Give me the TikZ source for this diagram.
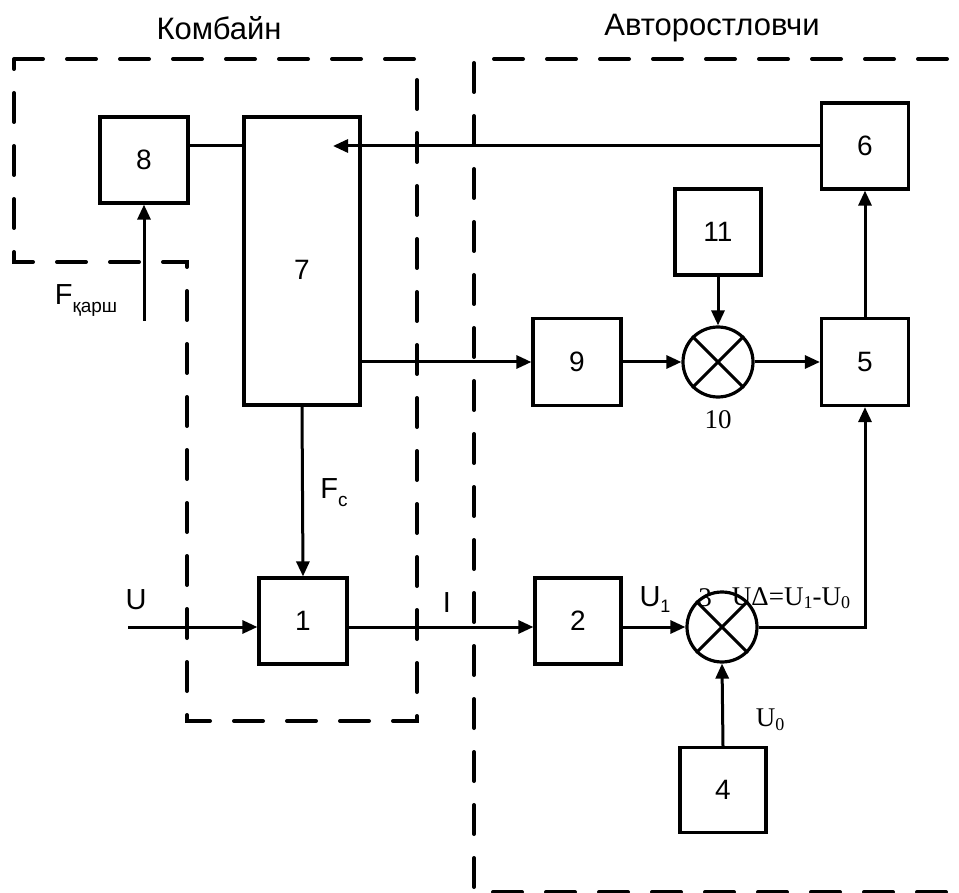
\documentclass[tikz,border=0pt]{standalone}
\usepackage{fontspec}
\setmainfont{Liberation Sans}
\newfontfamily\tms{Liberation Serif}
\usetikzlibrary{arrows.meta}
\begin{document}
\begin{tikzpicture}[x=1pt,y=-1pt,
  blk/.style={draw,line width=3.2pt,rectangle,inner sep=0pt,font=\fontsize{28}{32}\selectfont},
  sum/.style={draw,line width=3.2pt,circle,inner sep=0pt,minimum size=70pt},
  conn/.style={line width=3pt},
  arr/.style={line width=3pt,-{Triangle[length=15pt,width=13pt]}},
  zone/.style={line width=4pt,line cap=round,dash pattern=on 29pt off 24pt},
  lbl/.style={font=\fontsize{29}{32}\selectfont,inner sep=0pt},
  ttl/.style={font=\fontsize{31}{34}\selectfont,inner sep=0pt},
  tlbl/.style={font=\tms\fontsize{27}{30}\selectfont,inner sep=0pt}]
\useasboundingbox (0,0) rectangle (959,893);
% zones
\draw[zone] (14,59) -- (417,59) -- (417,721) -- (187,721) -- (187,262) -- (14,262) -- cycle;
\draw[zone] (1000,59) -- (474,59) -- (474,892) -- (1000,892);
\node[ttl] (tk) at (219,28) {Комбайн};
\node[ttl] (ta) at (712,28) {Авторостловчи};
% blocks
\node[blk,minimum width=88pt,minimum height=86pt] (b8) at (144,160) {8};
\node[blk,minimum width=116pt,minimum height=288pt] (b7) at (302,261) {};
\node[font=\fontsize{28}{32}\selectfont] (n7) at (302,270) {7};
\node[blk,minimum width=87pt,minimum height=86pt] (b6) at (865,146) {6};
\node[blk,minimum width=86pt,minimum height=86pt] (b11) at (718,232) {11};
\node[blk,minimum width=88pt,minimum height=87pt] (b9) at (577,362) {9};
\node[sum] (b10) at (718,362) {};
\node[blk,minimum width=87pt,minimum height=87pt] (b5) at (865,362) {5};
\node[blk,minimum width=88pt,minimum height=86pt] (b1) at (303,621) {1};
\node[blk,minimum width=86pt,minimum height=86pt] (b2) at (578,621) {2};
\node[sum] (b3) at (722,627) {};
\node[blk,minimum width=86pt,minimum height=85pt] (b4) at (723,790) {4};
\draw[line width=3pt] (b10.north west) -- (b10.south east) (b10.north east) -- (b10.south west);
\draw[line width=3pt] (b3.north west) -- (b3.south east) (b3.north east) -- (b3.south west);
% coordinates
\coordinate (t7) at (333,146);
\coordinate (uin) at (128,627);
\coordinate (fin) at (144,321);
% connectors
\draw[conn] (b8.east |- b6.west) -- (b7.west |- b6.west);
\draw[arr] (b6.west) -- (t7);
\draw[arr] (b7.east |- b9.west) -- (b9.west);
\draw[arr] (b9.east) -- (b10.west);
\draw[arr] (b10.east) -- (b5.west);
\draw[arr] (b11.south) -- (b10.north);
\draw[arr] (b5.north) -- (b6.south);
\draw[arr] (b3.east) -| (b5.south);
\draw[arr] (b7.south) -- (b1.north);
\draw[arr] (uin) -- (b1.west |- uin);
\draw[arr] (b1.east |- b3.west) -- (b2.west |- b3.west);
\draw[arr] (b2.east |- b3.west) -- (b3.west);
\draw[arr] (b4.north) -- (b3.south);
\draw[arr] (fin) -- (b8.south);
% labels
\node[lbl] (lu) at (136,600) {U};
\node[lbl] (li) at (447,603) {I};
\node[lbl] (lu1) at (655,600) {U\raisebox{-6pt}{\fontsize{18}{18}\selectfont 1}};
\node[lbl] (lfc) at (334,493) {F\raisebox{-8pt}{\fontsize{19}{19}\selectfont c}};
\node[lbl] (lfk) at (86,300) {F\raisebox{-8pt}{\fontsize{19}{19}\selectfont қарш}};
\node[tlbl] (l10) at (718,420) {10};
\node[tlbl] (l3) at (705,598) {3};
\node[tlbl] (lud) at (791,598) {UΔ=U\raisebox{-3pt}{\fontsize{18}{18}\selectfont 1}-U\raisebox{-3pt}{\fontsize{18}{18}\selectfont 0}};
\node[tlbl] (lu0) at (770,720) {U\raisebox{-4pt}{\fontsize{18}{18}\selectfont 0}};
\end{tikzpicture}
\end{document}
